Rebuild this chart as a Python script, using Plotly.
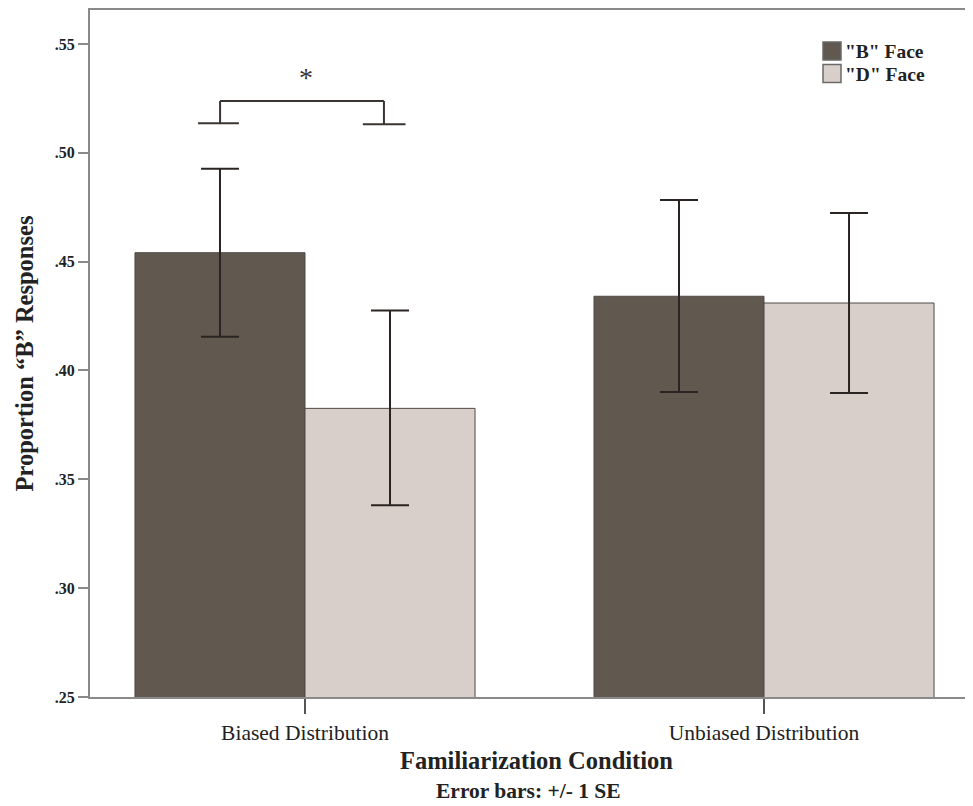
import plotly.graph_objects as go

categories = ["Biased Distribution", "Unbiased Distribution"]
series_names = ['"B" Face', '"D" Face']
b_face = [0.4541, 0.4341]
d_face = [0.3826, 0.4310]
b_err_plus = [0.0386, 0.0442]
b_err_minus = [0.0386, 0.0440]
d_err_plus = [0.0449, 0.0414]
d_err_minus = [0.0445, 0.0413]
y_tickvals = [0.25, 0.30, 0.35, 0.40, 0.45, 0.50, 0.55]
y_ticktext = [".25", ".30", ".35", ".40", ".45", ".50", ".55"]

FONT = "Liberation Serif"
DARK = "#615850"
LIGHT = "#d8cfca"
EDGE = "#4e4a46"
ERR = "#2a2522"
AXIS = "#8a8a8a"

# page body has an 8px margin; offset everything accordingly
OFF = 8
PL, PT, PW, PH = 90 - OFF, 10 - OFF, 883, 687

xpos = list(range(len(categories)))
bw = 0.3704

fig = go.Figure()
fig.add_trace(go.Bar(
    x=xpos, y=b_face, name=series_names[0], width=bw, offset=-bw,
    marker=dict(color=DARK, line=dict(color=EDGE, width=1)),
    error_y=dict(type="data", symmetric=False, array=b_err_plus, arrayminus=b_err_minus,
                 color=ERR, thickness=2, width=19),
    showlegend=False,
))
fig.add_trace(go.Bar(
    x=xpos, y=d_face, name=series_names[1], width=bw, offset=0,
    marker=dict(color=LIGHT, line=dict(color=EDGE, width=1)),
    error_y=dict(type="data", symmetric=False, array=d_err_plus, arrayminus=d_err_minus,
                 color=ERR, thickness=2, width=19),
    showlegend=False,
))

# significance bracket
bl, br = -0.185, 0.172
ytop, yfoot_l, yfoot_r = 0.5238, 0.5136, 0.5131
line = dict(color="#3a3532", width=2)
fig.add_shape(type="line", x0=-0.233, x1=-0.144, y0=yfoot_l, y1=yfoot_l, line=line)
fig.add_shape(type="line", x0=bl, x1=bl, y0=yfoot_l, y1=ytop, line=line)
fig.add_shape(type="line", x0=bl, x1=br, y0=ytop, y1=ytop, line=line)
fig.add_shape(type="line", x0=br, x1=br, y0=ytop, y1=yfoot_r, line=line)
fig.add_shape(type="line", x0=0.126, x1=0.219, y0=yfoot_r, y1=yfoot_r, line=line)
fig.add_annotation(x=0.003, y=0.5345, text="*", showarrow=False,
                   font=dict(family=FONT, size=28, color="#3a3532"))


def px_x(x):
    return (x - 90) / PW


def px_y(y):
    return (697 - y) / PH


# manual legend
for i, (nm, col) in enumerate(zip(series_names, [DARK, LIGHT])):
    y0 = 60 + i * 22.5
    fig.add_shape(type="rect", xref="paper", yref="paper",
                  x0=px_x(823), x1=px_x(841),
                  y0=px_y(y0), y1=px_y(y0 - 18),
                  fillcolor=col, line=dict(color="#6a6a6a", width=1.5))
    fig.add_annotation(xref="paper", yref="paper", x=px_x(843), y=px_y(y0 - 8.5),
                       xanchor="left", yanchor="middle", text="<b>" + nm + "</b>", showarrow=False,
                       font=dict(family=FONT, size=19.5, color="#222"))

fig.add_annotation(xref="paper", yref="paper", x=px_x(528), y=px_y(791),
                   text="<b>Error bars: +/- 1 SE</b>", showarrow=False,
                   xanchor="center", yanchor="middle",
                   font=dict(family=FONT, size=21.5, color="#222"))

fig.add_annotation(xref="paper", yref="paper", x=px_x(536), y=px_y(760),
                   text="<b>Familiarization Condition</b>", showarrow=False,
                   xanchor="center", yanchor="middle",
                   font=dict(family=FONT, size=24.5, color="#222"))

fig.update_layout(
    width=973 - OFF, height=806 - OFF,
    margin=dict(l=PL, r=0, t=PT, b=806 - OFF - PT - PH, autoexpand=False),
    plot_bgcolor="white", paper_bgcolor="white",
    barmode="overlay",
    font=dict(family=FONT, color="#222"),
    xaxis=dict(
        range=[-0.4684, 1.4553], tickvals=xpos, ticktext=categories,
        ticks="outside", ticklen=15, tickwidth=1.5, tickcolor="#555",
        tickfont=dict(family=FONT, size=21.5, color="#222"),
        showline=True, linecolor=AXIS, linewidth=2, mirror=True,
        showgrid=False, zeroline=False, automargin=False,
    ),
    yaxis=dict(
        range=[0.25, 0.5656], tickvals=y_tickvals, ticktext=y_ticktext,
        ticks="outside", ticklen=10, tickwidth=2, tickcolor=AXIS,
        tickfont=dict(family=FONT, size=16, color="#222", weight="bold"),
        showline=True, linecolor=AXIS, linewidth=2,
        showgrid=False, zeroline=False, automargin=False,
        title=dict(text="<b>Proportion “B” Responses</b>", font=dict(family=FONT, size=24.5, color="#222"),
                   standoff=14),
    ),
)

fig.write_html("out.html")
